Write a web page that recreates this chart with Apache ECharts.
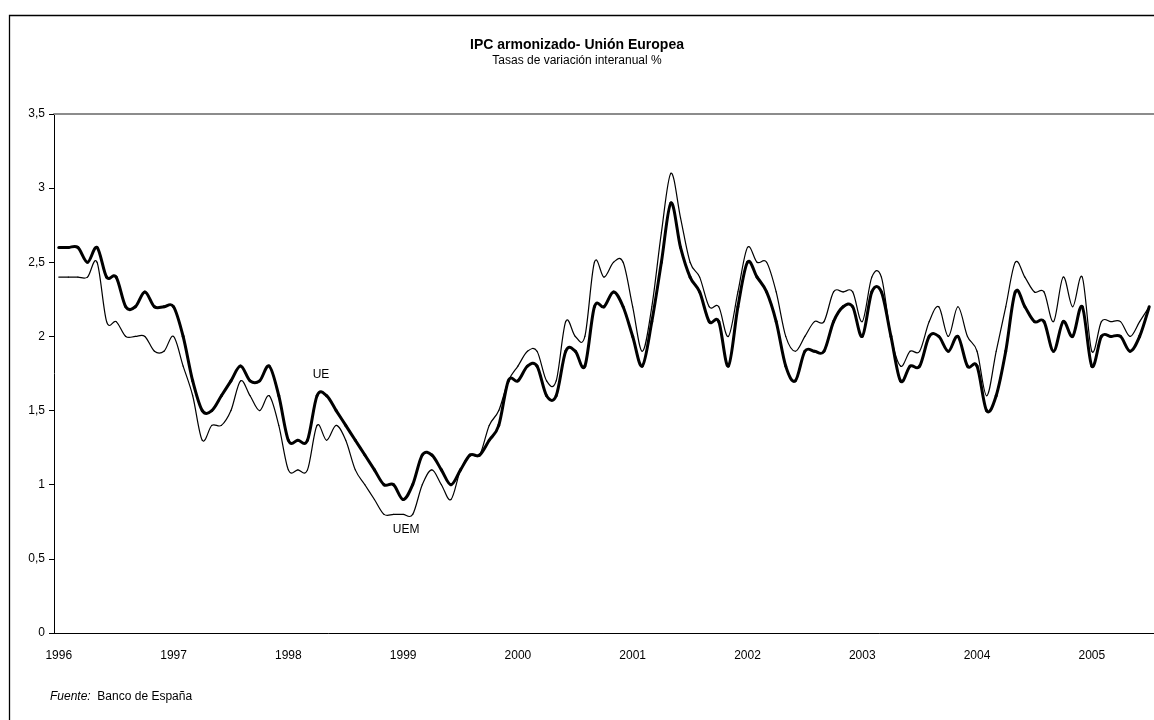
<!DOCTYPE html>
<html>
<head>
<meta charset="utf-8">
<title>IPC armonizado- Unión Europea</title>
<script src="https://cdn.jsdelivr.net/npm/echarts@6/dist/echarts.min.js"></script>
<style>
    html, body { margin: 0; padding: 0; background: #fff; }
    #content { width: 1154px; height: 720px; }
</style>
</head>
<body>
<div id="content"></div>
<script>
// años del eje X (12 meses cada uno, ene 1996 - jul 2005)
var years = ['1996', '1997', '1998', '1999', '2000', '2001', '2002', '2003', '2004', '2005'];
var lastMonths = 7; // meses de 2005 con dato

// UE - línea gruesa
var ue = [
    2.6, 2.6, 2.6, 2.5, 2.6, 2.4, 2.4, 2.2, 2.2, 2.3, 2.2, 2.2,
    2.2, 2.0, 1.7, 1.5, 1.5, 1.6, 1.7, 1.8, 1.7, 1.7, 1.8, 1.6,
    1.3, 1.3, 1.3, 1.6, 1.6, 1.5, 1.4, 1.3, 1.2, 1.1, 1.0, 1.0,
    0.9, 1.0, 1.2, 1.2, 1.1, 1.0, 1.1, 1.2, 1.2, 1.3, 1.4, 1.7,
    1.7, 1.8, 1.8, 1.6, 1.6, 1.9, 1.9, 1.8, 2.2, 2.2, 2.3, 2.2,
    2.0, 1.8, 2.1, 2.5, 2.9, 2.6, 2.4, 2.3, 2.1, 2.1, 1.8, 2.2,
    2.5, 2.4, 2.3, 2.1, 1.8, 1.7, 1.9, 1.9, 1.9, 2.1, 2.2, 2.2,
    2.0, 2.3, 2.3, 2.0, 1.7, 1.8, 1.8, 2.0, 2.0, 1.9, 2.0, 1.8,
    1.8, 1.5, 1.6, 1.9, 2.3, 2.2, 2.1, 2.1, 1.9, 2.1, 2.0, 2.2,
    1.8, 2.0, 2.0, 2.0, 1.9, 2.0, 2.2
];

// UEM - línea fina
var uem = [
    2.4, 2.4, 2.4, 2.4, 2.5, 2.1, 2.1, 2.0, 2.0, 2.0, 1.9, 1.9,
    2.0, 1.8, 1.6, 1.3, 1.4, 1.4, 1.5, 1.7, 1.6, 1.5, 1.6, 1.4,
    1.1, 1.1, 1.1, 1.4, 1.3, 1.4, 1.3, 1.1, 1.0, 0.9, 0.8, 0.8,
    0.8, 0.8, 1.0, 1.1, 1.0, 0.9, 1.1, 1.2, 1.2, 1.4, 1.5, 1.7,
    1.8, 1.9, 1.9, 1.7, 1.7, 2.1, 2.0, 2.0, 2.5, 2.4, 2.5, 2.5,
    2.2, 1.9, 2.2, 2.7, 3.1, 2.8, 2.5, 2.4, 2.2, 2.2, 2.0, 2.3,
    2.6, 2.5, 2.5, 2.3, 2.0, 1.9, 2.0, 2.1, 2.1, 2.3, 2.3, 2.3,
    2.1, 2.4, 2.4, 2.0, 1.8, 1.9, 1.9, 2.1, 2.2, 2.0, 2.2, 2.0,
    1.9, 1.6, 1.9, 2.2, 2.5, 2.4, 2.3, 2.3, 2.1, 2.4, 2.2, 2.4,
    1.9, 2.1, 2.1, 2.1, 2.0, 2.1, 2.2
];

// categorías mensuales
var months = [];
for (var y = 0; y < years.length; y++) {
    var n = (y == years.length - 1) ? lastMonths : 12;
    for (var m = 1; m <= n; m++) {
        months.push(years[y] + '-' + (m < 10 ? '0' + m : m));
    }
}

// curva suavizada tipo Excel (Catmull-Rom), un tramo por dato
function smoothLine(arr, width) {
    return function(params, api) {
        var i = params.dataIndex;
        if (i >= arr.length - 1) return null;
        var a = api.coord([Math.max(i - 1, 0), arr[Math.max(i - 1, 0)]]);
        var b = api.coord([i, arr[i]]);
        var c = api.coord([i + 1, arr[i + 1]]);
        var d = api.coord([Math.min(i + 2, arr.length - 1), arr[Math.min(i + 2, arr.length - 1)]]);
        return {
            type: 'bezierCurve',
            shape: {
                x1: b[0], y1: b[1],
                x2: c[0], y2: c[1],
                cpx1: b[0] + (c[0] - a[0]) / 6,
                cpy1: b[1] + (c[1] - a[1]) / 6,
                cpx2: c[0] - (d[0] - b[0]) / 6,
                cpy2: c[1] - (d[1] - b[1]) / 6
            },
            style: { stroke: '#000', fill: null, lineWidth: width, lineCap: 'round' },
            silent: true
        };
    };
}

function toPairs(arr) {
    var out = [];
    for (var i = 0; i < arr.length; i++) out.push([i, arr[i]]);
    return out;
}

var myChart = echarts.init(document.getElementById('content'));
var font = '"Liberation Sans", Arial, sans-serif';

var option = {
    animation: false,
    backgroundColor: '#fff',
    textStyle: { fontFamily: font },
    title: {
        text: 'IPC armonizado- Unión Europea',
        subtext: 'Tasas de variación interanual %',
        left: 'center',
        top: 33,
        itemGap: 3,
        textStyle: { fontFamily: font, fontSize: 14, fontWeight: 'bold', color: '#000' },
        subtextStyle: { fontFamily: font, fontSize: 12, color: '#000' }
    },
    grid: { left: 54, right: -2, top: 114, bottom: 87, containLabel: false },
    xAxis: [{
        type: 'category',
        data: months,
        boundaryGap: true,
        axisLine: { lineStyle: { color: '#000', width: 1 } },
        axisTick: {
            length: 5,
            lineStyle: { color: '#000' },
            interval: function(index) { return index % 12 == 0; }
        },
        axisLabel: {
            interval: function(index) { return index % 12 == 0; },
            formatter: function(v) { return v.substr(0, 4); },
            color: '#000',
            fontSize: 12,
            margin: 17
        },
        splitLine: { show: false }
    }, {
        // borde superior del área de gráfico
        type: 'category',
        data: months,
        position: 'top',
        axisLine: { lineStyle: { color: '#8c8c8c', width: 2 } },
        axisTick: { show: false },
        axisLabel: { show: false }
    }],
    yAxis: {
        type: 'value',
        min: 0,
        max: 3.5,
        interval: 0.5,
        axisLine: { show: true, lineStyle: { color: '#000', width: 1 } },
        axisTick: { show: true, length: 5, lineStyle: { color: '#000' } },
        axisLabel: {
            color: '#000',
            fontSize: 12,
            margin: 9,
            formatter: function(v) { return String(v).replace('.', ','); }
        },
        splitLine: { show: false }
    },
    series: [{
        name: 'UE',
        type: 'custom',
        data: toPairs(ue),
        renderItem: smoothLine(ue, 3),
        z: 3,
        markPoint: {
            symbol: 'circle',
            symbolSize: 0,
            data: [{ coord: [27, 1.74], value: 'UE' }],
            label: { show: true, formatter: 'UE', color: '#000', fontSize: 12, offset: [4, 0] }
        }
    }, {
        name: 'UEM',
        type: 'custom',
        data: toPairs(uem),
        renderItem: smoothLine(uem, 1.2),
        z: 2,
        markPoint: {
            symbol: 'circle',
            symbolSize: 0,
            data: [{ coord: [36, 0.7], value: 'UEM' }],
            label: { show: true, formatter: 'UEM', color: '#000', fontSize: 12, offset: [3, 0] }
        }
    }],
    graphic: [{
        // marco exterior
        type: 'rect',
        left: 7,
        top: 13,
        silent: true,
        shape: { width: 1200, height: 800 },
        style: { fill: 'none', stroke: '#000', lineWidth: 1.3 }
    }, {
        type: 'text',
        left: 50,
        top: 691,
        style: {
            text: '{i|Fuente:}  Banco de España',
            font: '12px ' + font,
            fill: '#000',
            rich: {
                i: { fontStyle: 'italic', fontSize: 12, fontFamily: font, fill: '#000' }
            }
        }
    }]
};

myChart.setOption(option);
</script>
</body>
</html>
